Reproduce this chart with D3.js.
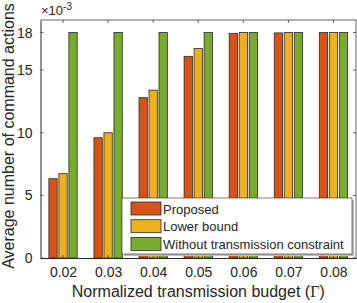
<!DOCTYPE html>
<meta charset="utf-8">
<style>
body { margin:0; background:#fff; }
text { font-family: "Liberation Sans", Arial, sans-serif; fill:#262626; }
.axis path, .axis line { stroke:#262626; }
</style>
<body>
<svg width="357" height="303" id="vis"></svg>
</body>
<script src="https://d3js.org/d3.v7.min.js"></script>
<script>
var budgets = ["0.02","0.03","0.04","0.05","0.06","0.07","0.08"];
var proposed = [6.33, 9.6, 12.8, 16.1, 17.92, 17.97, 18];
var lowerBound = [6.73, 10.0, 13.4, 16.73, 18, 18, 18];
var unconstrained = [18, 18, 18, 18, 18, 18, 18];
var yTicks = [0, 5, 10, 15, 18];
var seriesNames = ["Proposed", "Lower bound", "Without transmission constraint"];
var colours = ["#D95319", "#EDB120", "#77AC30"];

var series = [proposed, lowerBound, unconstrained];

var svg = d3.select("svg"),
    margin = {top: 20, right: 1, bottom: 45, left: 40.5},
    width = +svg.attr("width") - margin.left - margin.right,
    height = +svg.attr("height") - margin.top - margin.bottom;

var x = d3.scaleLinear().domain([0.015, 0.085]).range([0, width]),
    y = d3.scaleLinear().domain([0, 19]).range([height, 0]);

var g = svg.append("g")
    .attr("transform", "translate(" + margin.left + "," + margin.top + ")");

// bars
var barStep = 10, barW = 8.3;
series.forEach(function(s, i) {
  g.selectAll(".bar" + i).data(s).enter().append("rect")
    .attr("class", "bar" + i)
    .attr("x", function(d, j) { return x(+budgets[j]) + (i - 1) * barStep - barW / 2; })
    .attr("y", function(d) { return y(d); })
    .attr("width", barW)
    .attr("height", function(d) { return height - y(d); })
    .style("fill", colours[i])
    .style("stroke", "#2a2a2a")
    .style("stroke-width", 0.8);
});

// axes
var xaxis = g.append("g").attr("class", "axis")
    .attr("transform", "translate(0," + height + ")")
    .call(d3.axisBottom(x).tickValues(budgets.map(Number)).tickFormat(d3.format(".2f")).tickSize(0).tickPadding(9).tickSizeOuter(0));
var yaxis = g.append("g").attr("class", "axis")
    .call(d3.axisLeft(y).tickValues(yTicks).tickSize(0).tickPadding(8).tickSizeOuter(0));
g.selectAll(".axis text").style("font-size", "14px").style("fill", "#262626");
g.selectAll(".axis .domain").style("stroke", "#262626");

// box: top and right with inward ticks
g.append("line").attr("x1", 0).attr("x2", width).attr("y1", 0).attr("y2", 0).style("stroke", "#262626").style("stroke-width", 0.7);
g.append("line").attr("x1", width).attr("x2", width).attr("y1", 0).attr("y2", height).style("stroke", "#262626").style("stroke-width", 0.7);
g.selectAll(".tt").data(budgets).enter().append("line")
  .attr("x1", function(d) { return x(+d); }).attr("x2", function(d) { return x(+d); })
  .attr("y1", 0).attr("y2", 3).style("stroke", "#262626").style("stroke-width", 0.7);
g.selectAll(".bt").data(budgets).enter().append("line")
  .attr("x1", function(d) { return x(+d); }).attr("x2", function(d) { return x(+d); })
  .attr("y1", height).attr("y2", height - 3).style("stroke", "#262626").style("stroke-width", 0.7);
g.selectAll(".rt").data(yTicks).enter().append("line")
  .attr("x1", width).attr("x2", width - 3)
  .attr("y1", function(d) { return y(d); }).attr("y2", function(d) { return y(d); })
  .style("stroke", "#262626").style("stroke-width", 0.7);
g.selectAll(".lt").data(yTicks).enter().append("line")
  .attr("x1", 0).attr("x2", 3)
  .attr("y1", function(d) { return y(d); }).attr("y2", function(d) { return y(d); })
  .style("stroke", "#262626").style("stroke-width", 0.7);

// exponent
var ex = svg.append("text").attr("x", 41).attr("y", 15).style("font-size", "13px");
ex.append("tspan").text("\u00d710");
ex.append("tspan").attr("dy", -5).style("font-size", "10px").text("-3");

// labels
var xl = svg.append("text")
  .attr("x", margin.left + width / 2).attr("y", 297)
  .attr("text-anchor", "middle").style("font-size", "16px");
xl.append("tspan").text("Normalized transmission budget (");
xl.append("tspan").style("font-family", "'Liberation Serif', serif").text("\u0393");
xl.append("tspan").text(")");
svg.append("text")
  .attr("transform", "translate(13.5,136) rotate(-90)")
  .attr("text-anchor", "middle").style("font-size", "16px")
  .text("Average number of command actions");

// legend
var lg = svg.append("g").attr("transform", "translate(122,198)");
lg.append("rect").attr("x", 2).attr("y", 2).attr("width", 230).attr("height", 56).style("fill", "#bdbdbd");
lg.append("rect").attr("width", 230).attr("height", 56).style("fill", "#fff").style("stroke", "#262626").style("stroke-width", 0.6);
seriesNames.forEach(function(n, i) {
  lg.append("rect").attr("x", 9).attr("y", 4 + i * 17.7).attr("width", 30).attr("height", 13)
    .style("fill", colours[i]).style("stroke", "#2a2a2a").style("stroke-width", 0.8);
  lg.append("text").attr("x", 41).attr("y", 15.5 + i * 17.7).style("font-size", "13px").text(n);
});
</script>
